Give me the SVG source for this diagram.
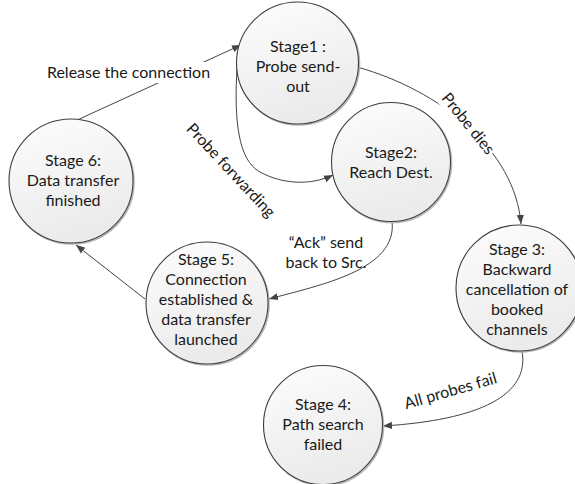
<svg xmlns="http://www.w3.org/2000/svg" width="575" height="484" viewBox="0 0 575 484">
  <style>
    .node { fill: url(#nodeFill); stroke: #3f3f3f; stroke-width: 1.1; }
    .shade { fill: none; stroke: #b5b5b5; stroke-width: 1.6; }
    .conn { fill: none; stroke: #444; stroke-width: 1; }
    text { font-family: Lato, "Liberation Sans", sans-serif; font-size: 16px; fill: #1a1a1a; }
    .c { text-anchor: middle; }
  </style>
  <defs>
    <linearGradient id="nodeFill" x1="0" y1="0" x2="0.3" y2="1">
      <stop offset="0" stop-color="#fdfdfd"/>
      <stop offset="1" stop-color="#ebebeb"/>
    </linearGradient>
    <marker id="arrow" viewBox="0 0 10 10" refX="10" refY="5" markerWidth="9" markerHeight="9" markerUnits="userSpaceOnUse" orient="auto">
      <path d="M0,1 L10,5 L0,9 z" fill="#444"/>
    </marker>
  </defs>

  <rect width="575" height="484" fill="#fff"/>

  <!-- connectors -->
  <g id="connectors">
    <path class="conn" d="M75,121 L241,45" marker-end="url(#arrow)"/>
    <rect x="46" y="62" width="166" height="21" fill="#fff"/>
    <text class="c" x="128.5" y="78">Release the connection</text>

    <path class="conn" d="M237,68 C234,120 238,160 260,172 S310,186 333,175" marker-end="url(#arrow)"/>
    <text class="c" transform="translate(227,174) rotate(47)">Probe forwarding</text>

    <path class="conn" d="M357,67 C440,90 515,150 521,224" marker-end="url(#arrow)"/>
    <g transform="translate(464,127) rotate(51)">
      <rect x="-38" y="-14" width="76" height="19" fill="#fff"/>
      <text class="c" x="0" y="0">Probe dies</text>
    </g>

    <path class="conn" d="M392,221 C398,270 320,285 269,299" marker-end="url(#arrow)"/>
    <text class="c" x="326" y="248">“Ack” send</text>
    <text class="c" x="326" y="268">back to Src.</text>

    <path class="conn" d="M145,299 L76,245" marker-end="url(#arrow)"/>

    <path class="conn" d="M522,351 C530,395 480,420 383,426" marker-end="url(#arrow)"/>
    <text class="c" transform="translate(452,396) rotate(-16)">All probes fail</text>
  </g>

  <!-- stage nodes -->
  <g id="stage1">
    <circle class="shade" cx="298.5" cy="64" r="61"/>
    <circle class="node" cx="297.5" cy="63" r="61"/>
    <text class="c" x="298" y="52">Stage1 :</text>
    <text class="c" x="298" y="72">Probe send-</text>
    <text class="c" x="298" y="92">out</text>
  </g>

  <g id="stage2">
    <circle class="shade" cx="392" cy="163" r="59.5"/>
    <circle class="node" cx="391" cy="162" r="59.5"/>
    <text class="c" x="391" y="158">Stage2:</text>
    <text class="c" x="391" y="178">Reach Dest.</text>
  </g>

  <g id="stage3">
    <circle class="shade" cx="520" cy="289" r="63"/>
    <circle class="node" cx="519" cy="288" r="63"/>
    <text class="c" x="517" y="255">Stage 3:</text>
    <text class="c" x="517" y="275">Backward</text>
    <text class="c" x="517" y="295">cancellation of</text>
    <text class="c" x="517" y="315">booked</text>
    <text class="c" x="517" y="335">channels</text>
  </g>

  <g id="stage4">
    <circle class="shade" cx="324" cy="426" r="59.5"/>
    <circle class="node" cx="323" cy="425" r="59.5"/>
    <text class="c" x="323" y="410">Stage 4:</text>
    <text class="c" x="323" y="430">Path search</text>
    <text class="c" x="323" y="450">failed</text>
  </g>

  <g id="stage5">
    <circle class="shade" cx="208" cy="304" r="61"/>
    <circle class="node" cx="207" cy="303" r="61"/>
    <text class="c" x="206" y="265">Stage 5:</text>
    <text class="c" x="206" y="285">Connection</text>
    <text class="c" x="206" y="305">established &amp;</text>
    <text class="c" x="206" y="325">data transfer</text>
    <text class="c" x="206" y="345">launched</text>
  </g>

  <g id="stage6">
    <circle class="shade" cx="72" cy="182" r="62"/>
    <circle class="node" cx="71" cy="181" r="62"/>
    <text class="c" x="73" y="166">Stage 6:</text>
    <text class="c" x="73" y="186">Data transfer</text>
    <text class="c" x="73" y="206">finished</text>
  </g>
</svg>
